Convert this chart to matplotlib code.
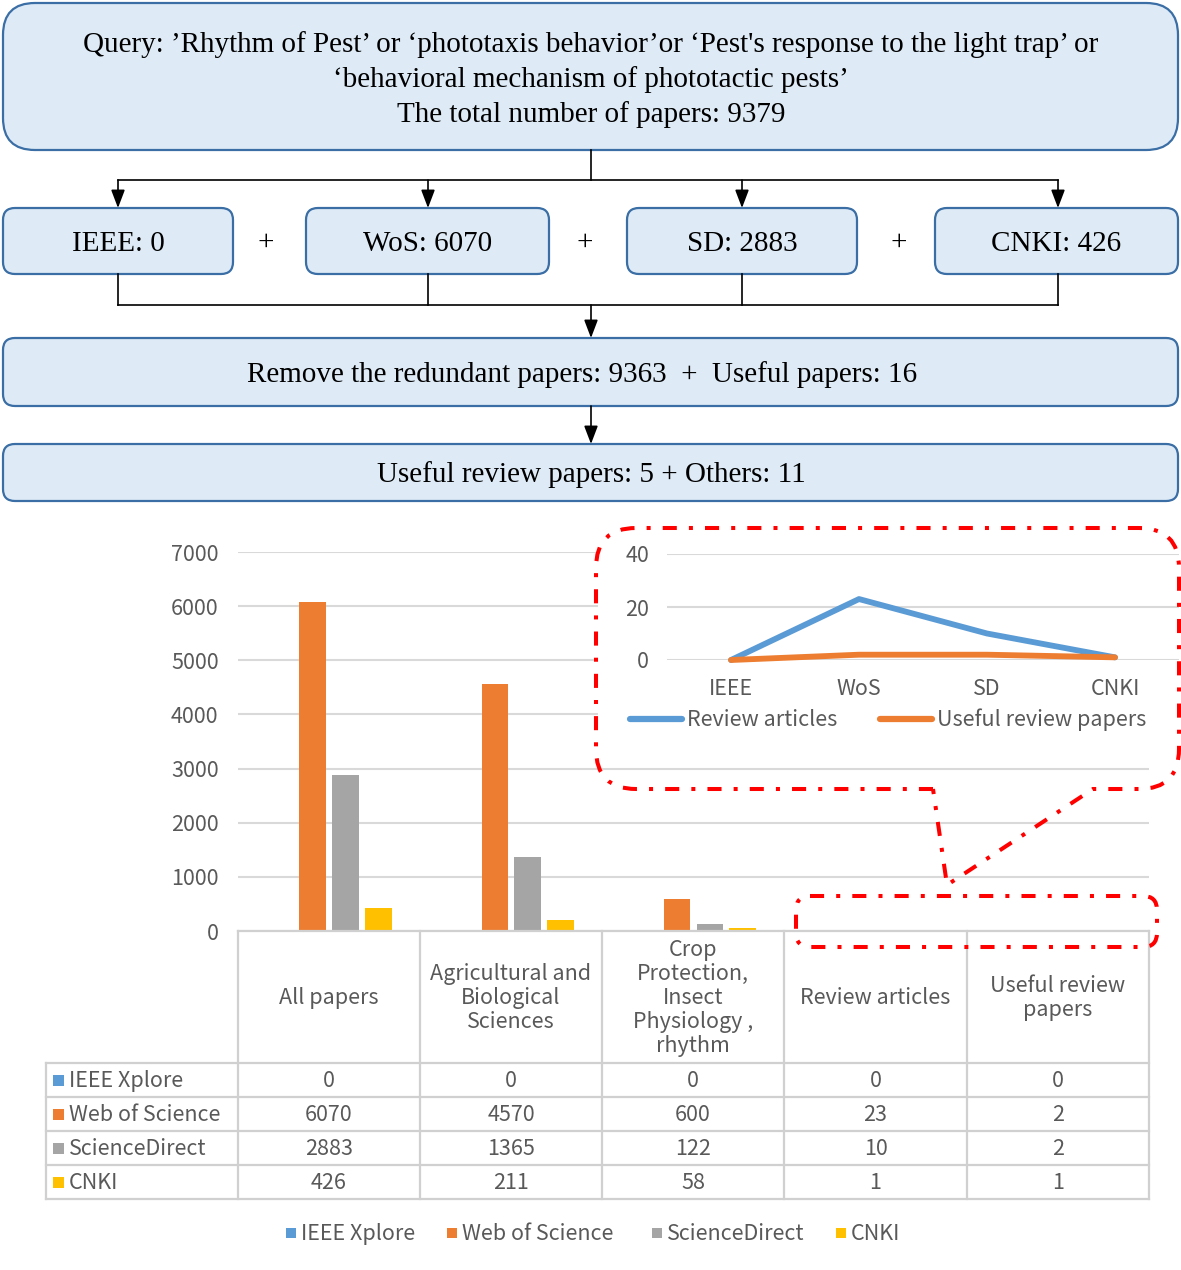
import matplotlib
matplotlib.use('Agg')
from matplotlib import pyplot as plt
from matplotlib.patches import FancyBboxPatch, Rectangle, PathPatch
from matplotlib.path import Path
import numpy as np

# ---- data ----
categories = ['All papers', 'Agricultural and\nBiological\nSciences',
              'Crop\nProtection,\nInsect\nPhysiology ,\nrhythm',
              'Review articles', 'Useful review\npapers']
sources = ['IEEE Xplore', 'Web of Science', 'ScienceDirect', 'CNKI']
ieee = [0, 0, 0, 0, 0]
wos = [6070, 4570, 600, 23, 2]
sd = [2883, 1365, 122, 10, 2]
cnki = [426, 211, 58, 1, 1]
colors = ['#5B9BD5', '#ED7D31', '#A5A5A5', '#FFC000']

inset_labels = ['IEEE', 'WoS', 'SD', 'CNKI']
review_articles = [0, 23, 10, 1]
useful_reviews = [0, 2, 2, 1]

query_lines = ["Query: \u2019Rhythm of Pest\u2019 or \u2018phototaxis behavior\u2019or \u2018Pest's response to the light trap\u2019 or",
               "\u2018behavioral mechanism of phototactic pests\u2019",
               "The total number of papers: 9379"]
db_boxes = ['IEEE: 0', 'WoS: 6070', 'SD: 2883', 'CNKI: 426']
step3 = 'Remove the redundant papers: 9363  +  Useful papers: 16'
step4 = 'Useful review papers: 5 + Others: 11'

W, H = 1181, 1270
fig = plt.figure(figsize=(W / 100, H / 100), dpi=100)
sans = ['Noto Sans CJK SC', 'DejaVu Sans']
serif = 'Liberation Serif'
serif_size = 21
grey_txt = '#595959'
grid_c = '#D9D9D9'


def fbox(x0, y0, x1, y1):
    # pixel box -> figure fraction
    return [x0 / W, 1 - y1 / H, (x1 - x0) / W, (y1 - y0) / H]


# ---- main bar chart ----
ax = fig.add_axes(fbox(238, 552, 1149, 931))
series = [ieee, wos, sd, cnki]
x = np.arange(len(categories))
for i, vals in enumerate(series):
    ax.bar(x + (i - 1.5) * 0.18, vals, width=0.145, color=colors[i], zorder=3)
ax.set_xlim(-0.5, len(categories) - 0.5)
ax.set_ylim(0, 7000)
ax.set_yticks(range(0, 7001, 1000))
ax.yaxis.grid(True, color=grid_c, lw=1.5, zorder=0)
ax.set_xticks([])
ax.tick_params(axis='y', length=0, pad=14, labelsize=15.5, labelcolor=grey_txt)
for lab in ax.get_yticklabels():
    lab.set_family(sans)
for s in ax.spines.values():
    s.set_visible(False)
# white background behind the zoomed inset
ax.add_patch(Rectangle((598 / W, 1 - 758 / H), 580 / W, 228 / H, transform=fig.transFigure,
                       facecolor='white', edgecolor='none', zorder=4, clip_on=False))

# ---- inset line chart ----
ins = fig.add_axes(fbox(667, 554, 1179, 660))
ins.set_facecolor('none')
xi = np.arange(len(inset_labels))
ins.plot(xi, review_articles, color=colors[0], lw=4.2, solid_capstyle='round',
         solid_joinstyle='round', zorder=3, clip_on=False)
ins.plot(xi, useful_reviews, color=colors[1], lw=4.2, solid_capstyle='round',
         solid_joinstyle='round', zorder=3, clip_on=False)
ins.set_xlim(-0.5, 3.5)
ins.set_ylim(0, 40)
ins.set_yticks([0, 20, 40])
ins.set_xticks(xi)
ins.set_xticklabels(inset_labels)
ins.yaxis.grid(True, color=grid_c, lw=1.5, zorder=0)
ins.tick_params(length=0, labelsize=15.5, labelcolor=grey_txt)
ins.tick_params(axis='y', pad=13)
ins.tick_params(axis='x', pad=13)
for lab in ins.get_xticklabels() + ins.get_yticklabels():
    lab.set_family(sans)
for s in ins.spines.values():
    s.set_visible(False)

# ---- overlay in pixel coordinates ----
ov = fig.add_axes([0, 0, 1, 1])
ov.set_xlim(0, W)
ov.set_ylim(H, 0)
ov.set_axis_off()
ov.patch.set_alpha(0)

box_fc = '#DEEBF7'
box_ec = '#3A6EA5'


def rbox(x0, y0, x1, y1, r):
    ov.add_patch(FancyBboxPatch((x0, y0), x1 - x0, y1 - y0,
                                boxstyle='round,pad=0,rounding_size=%d' % r,
                                facecolor=box_fc, edgecolor=box_ec, lw=1.6))


def arrow(x0, y0, x1, y1):
    ov.annotate('', xy=(x1, y1), xytext=(x0, y0),
                arrowprops=dict(arrowstyle='-|>,head_length=1.0,head_width=0.38', color='black',
                                lw=1.2, shrinkA=0, shrinkB=0, mutation_scale=11))


def stext(xx, yy, t, **kw):
    ov.text(xx, yy + 3, t, ha='center', va='center', family=serif, fontsize=serif_size, **kw)


# flowchart
rbox(3, 3, 1178, 150, 32)
for t, yy in zip(query_lines, [42, 77, 112]):
    stext(591, yy, t)

ov.plot([591, 591], [150, 180], color='black', lw=1.2)
ov.plot([118, 1058], [180, 180], color='black', lw=1.2)
box_x = [(3, 233), (306, 549), (627, 857), (935, 1178)]
centers = [118, 428, 742, 1058]
for (x0, x1), cx, t in zip(box_x, centers, db_boxes):
    arrow(cx, 180, cx, 208)
    rbox(x0, 208, x1, 274, 12)
    stext((x0 + x1) / 2, 241, t)
    ov.plot([cx, cx], [274, 305], color='black', lw=1.2)
for px in [266, 585, 899]:
    stext(px, 240, '+')
ov.plot([118, 1058], [305, 305], color='black', lw=1.2)
arrow(591, 305, 591, 338)
rbox(3, 338, 1178, 406, 12)
stext(582, 372, step3)
arrow(591, 406, 591, 444)
rbox(3, 444, 1178, 501, 12)
stext(591, 472, step4)

# inset legend
ov.plot([630, 682], [719, 719], color=colors[0], lw=4.5, solid_capstyle='round')
ov.text(687, 720, 'Review articles', ha='left', va='center', family=sans, fontsize=15.5, color=grey_txt)
ov.plot([880, 932], [719, 719], color=colors[1], lw=4.5, solid_capstyle='round')
ov.text(937, 720, 'Useful review papers', ha='left', va='center', family=sans, fontsize=15.5, color=grey_txt)

# callout (dash-dot) with pointer
dashdot = (0, (3.5, 3, 1, 3))
L, R, T, B, r = 596, 1179, 528, 789, 40
verts = [(933, B), (L + r, B), (L, B), (L, B - r), (L, T + r), (L, T), (L + r, T),
         (R - r, T), (R, T), (R, T + r), (R, B - r), (R, B), (R - r, B),
         (1093, B), (947, 885), (933, B)]
codes = [Path.MOVETO, Path.LINETO, Path.CURVE3, Path.CURVE3, Path.LINETO, Path.CURVE3, Path.CURVE3,
         Path.LINETO, Path.CURVE3, Path.CURVE3, Path.LINETO, Path.CURVE3, Path.CURVE3,
         Path.LINETO, Path.LINETO, Path.LINETO]
ov.add_patch(PathPatch(Path(verts, codes), facecolor='none', edgecolor='#FF0000', lw=2.9,
                       linestyle=dashdot, zorder=5))
ov.add_patch(FancyBboxPatch((796, 896), 361, 51, boxstyle='round,pad=0,rounding_size=14',
                            facecolor='none', edgecolor='#FF0000', lw=2.9, linestyle=dashdot, zorder=5))

# data table
col_edges = [238, 420, 602, 784, 967, 1149]
row_edges = [1063, 1097, 1131, 1165, 1199]
tbl_c = '#D0D0D0'
ov.plot([238, 1149], [931, 931], color=tbl_c, lw=1.6)
for ce in col_edges:
    ov.plot([ce, ce], [931, 1199], color=tbl_c, lw=1.6)
ov.plot([46, 46], [1063, 1199], color=tbl_c, lw=1.6)
for re_ in row_edges:
    ov.plot([46, 1149], [re_, re_], color=tbl_c, lw=1.6)

for j, cat in enumerate(categories):
    cx = (col_edges[j] + col_edges[j + 1]) / 2
    ov.text(cx, 998, cat, ha='center', va='center', family=sans, fontsize=15.5,
            color=grey_txt, linespacing=1.12)
for i, (src, vals) in enumerate(zip(sources, series)):
    cy = (row_edges[i] + row_edges[i + 1]) / 2 + 1
    ov.add_patch(Rectangle((53, cy - 6), 11, 11, facecolor=colors[i], edgecolor='none'))
    ov.text(69, cy, src, ha='left', va='center', family=sans, fontsize=15.5, color=grey_txt)
    for j, v in enumerate(vals):
        cx = (col_edges[j] + col_edges[j + 1]) / 2
        ov.text(cx, cy, str(v), ha='center', va='center', family=sans, fontsize=15.5, color=grey_txt)

# bottom legend
for i, (src, lx) in enumerate(zip(sources, [286, 447, 652, 836])):
    ov.add_patch(Rectangle((lx, 1228), 10, 10, facecolor=colors[i], edgecolor='none'))
    ov.text(lx + 15, 1234, src, ha='left', va='center', family=sans, fontsize=15.5, color=grey_txt)

fig.savefig('out.png', dpi=100)
